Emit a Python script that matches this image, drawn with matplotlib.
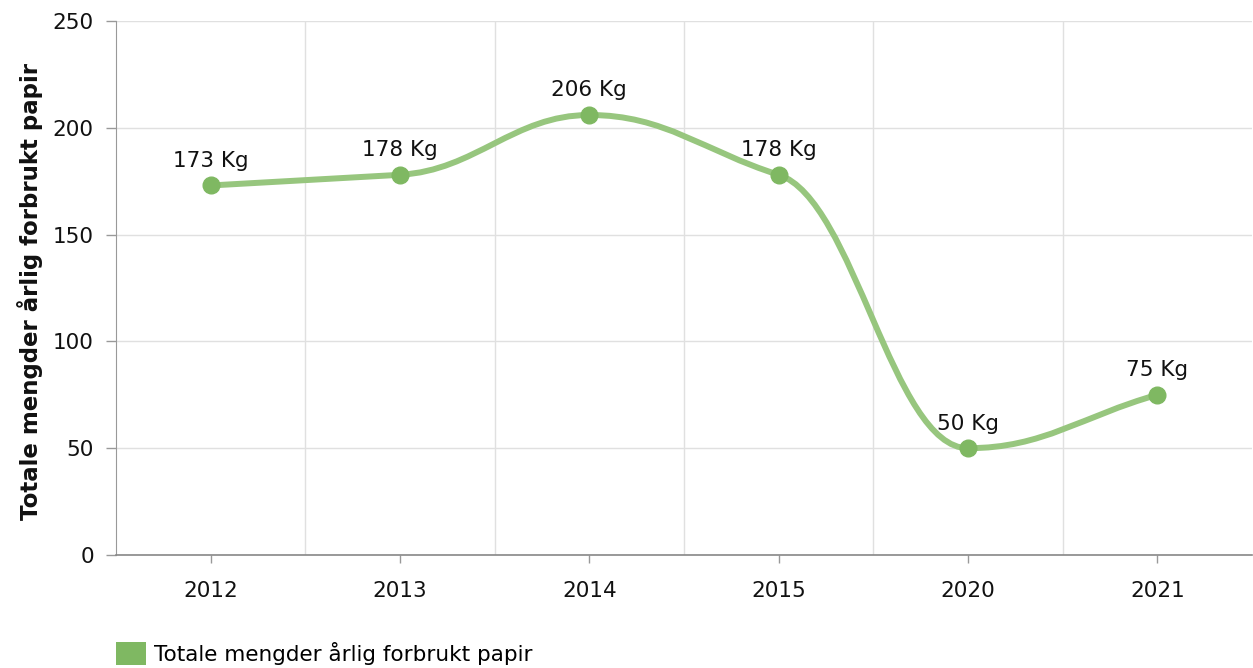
import matplotlib
matplotlib.use("Agg")
import matplotlib.pyplot as plt
from matplotlib.path import Path
from matplotlib.patches import PathPatch, Patch
import numpy as np

categories = ["2012", "2013", "2014", "2015", "2020", "2021"]
values = [173, 178, 206, 178, 50, 75]
labels = ["173 Kg", "178 Kg", "206 Kg", "178 Kg", "50 Kg", "75 Kg"]
series_name = "Totale mengder årlig forbrukt papir"
y_label = "Totale mengder årlig forbrukt papir"
y_ticks = [0, 50, 100, 150, 200, 250]

line_color = "#97c67e"
marker_color = "#7fb862"

plt.rcParams['font.family'] = ['DejaVu Sans']

fig = plt.figure(figsize=(12.53, 6.68), dpi=100)
ax = fig.add_axes([116/1253, 1 - 555/668, (1252 - 116)/1253, (555 - 21)/668])

xs = np.arange(len(categories), dtype=float)
ys = np.array(values, dtype=float)
n = len(xs)

# Monotone smoothing: tangent is 0 at local extremes, otherwise the smaller
# adjacent slope; endpoints follow their segment's chord.
slopes = np.diff(ys) / np.diff(xs)
tang = np.zeros(n)
tang[0] = slopes[0]
tang[-1] = slopes[-1]
for i in range(1, n - 1):
    s0, s1 = slopes[i - 1], slopes[i]
    if s0 * s1 <= 0:
        tang[i] = 0.0
    else:
        tang[i] = np.sign(s0) * min(abs(s0), abs(s1))

a = 0.4
verts = [(xs[0], ys[0])]
codes = [Path.MOVETO]
for i in range(1, n):
    dx = xs[i] - xs[i - 1]
    c1 = (xs[i - 1] + a * dx, ys[i - 1] + a * dx * tang[i - 1])
    c2 = (xs[i] - a * dx, ys[i] - a * dx * tang[i])
    verts += [c1, c2, (xs[i], ys[i])]
    codes += [Path.CURVE4] * 3

path = Path(verts, codes)
ax.add_patch(PathPatch(path, facecolor='none', edgecolor=line_color, lw=4.3,
                       capstyle='round', joinstyle='round', zorder=3))
ax.plot(xs, ys, linestyle='none', marker='o', markersize=12,
        color=marker_color, zorder=4)

for x, y, lab in zip(xs, ys, labels):
    ax.annotate(lab, (x, y), xytext=(0, 10.5), textcoords='offset points',
                ha='center', va='bottom', fontsize=15.5, color='#111111', zorder=5)

ax.set_xlim(-0.5, n - 0.5)
ax.set_ylim(0, 250)
ax.set_xticks(xs)
ax.set_xticklabels(categories)
ax.set_xticks(np.arange(n - 1) + 0.5, minor=True)
ax.set_yticks(y_ticks)

ax.grid(True, which='minor', axis='x', color='#e0e0e0', lw=1)
ax.grid(True, which='major', axis='y', color='#e0e0e0', lw=1)
ax.tick_params(axis='x', which='minor', length=0)
ax.tick_params(axis='x', which='major', length=6, width=1, color='#999999',
               pad=12.5, labelsize=15.5, labelcolor='#111111')
ax.tick_params(axis='y', which='major', length=7, width=1, color='#999999',
               pad=9, labelsize=15.5, labelcolor='#111111')
ax.set_axisbelow(True)

for s in ['top', 'right']:
    ax.spines[s].set_visible(False)
ax.spines['left'].set_color('#999999')
ax.spines['bottom'].set_color('#888888')
ax.spines['bottom'].set_linewidth(1.2)

fig.text(30/1253, 1 - 292/668, y_label, rotation=90, ha='center', va='center',
         fontsize=16.5, fontweight='bold', color='#111111')

fig.legend(handles=[Patch(facecolor=marker_color, edgecolor='none', label=series_name)],
           loc='lower left', bbox_to_anchor=(116/1253, 0.004), frameon=False,
           fontsize=15.5, handlelength=1.4, handleheight=1.3, handletextpad=0.35,
           borderaxespad=0, borderpad=0.0)

fig.savefig("out.png", dpi=100)
